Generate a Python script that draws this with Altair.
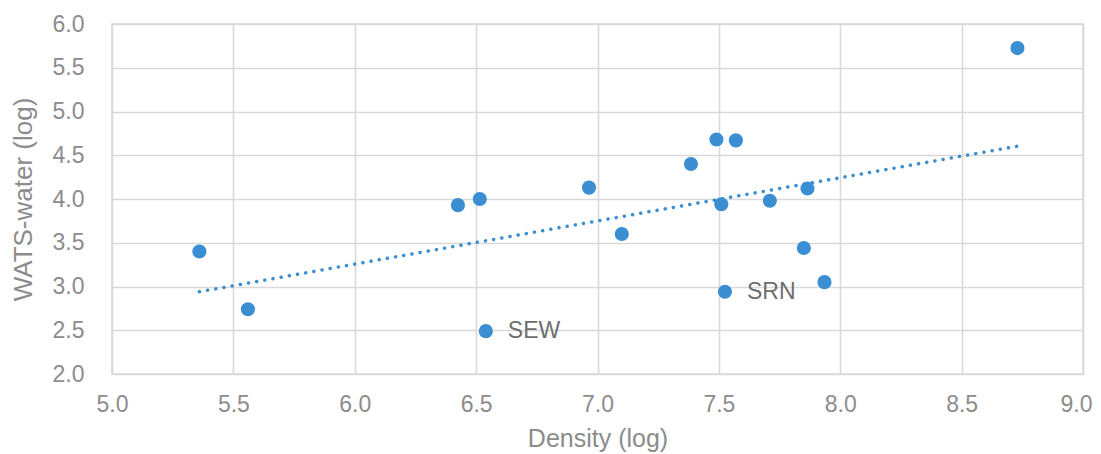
import altair as alt
import pandas as pd

density = [5.36, 5.56, 6.425, 6.515, 6.965, 7.10, 7.385, 7.49, 7.57, 7.51, 7.71, 7.865, 7.85, 7.935, 7.525, 6.54, 8.73]
wats = [3.40, 2.74, 3.93, 4.00, 4.13, 3.60, 4.40, 4.68, 4.67, 3.94, 3.98, 4.12, 3.44, 3.05, 2.94, 2.49, 5.725]
labels = ["", "", "", "", "", "", "", "", "", "", "", "", "", "", "SRN", "SEW", ""]

df = pd.DataFrame({"density": density, "wats": wats, "label": labels})

BLUE = "#3B8ED2"
GRID = "#D9D9D9"
TICK = "#8C8C8C"

x = alt.X("density:Q", scale=alt.Scale(domain=[5, 9], nice=False, zero=False),
          axis=alt.Axis(title="Density (log)", values=[5.0, 5.5, 6.0, 6.5, 7.0, 7.5, 8.0, 8.5, 9.0],
                        format=".1f", grid=True, gridColor=GRID, gridWidth=1.6,
                        domain=False, ticks=False, tickSize=0, labelPadding=19,
                        labelFlush=False, labelOverlap=False,
                        labelAlign={"condition": {"test": "datum.value >= 9", "value": "right"}, "value": "center"},
                        labelOffset={"condition": {"test": "datum.value >= 9", "value": 9}, "value": 0},
                        labelFontSize=23, labelColor=TICK, labelFont="Liberation Sans",
                        titleFontSize=25, titleColor=TICK, titleFont="Liberation Sans",
                        titleFontWeight="normal", titlePadding=10))
y = alt.Y("wats:Q", scale=alt.Scale(domain=[2, 6], nice=False, zero=False),
          axis=alt.Axis(title="WATS-water (log)", values=[2.0, 2.5, 3.0, 3.5, 4.0, 4.5, 5.0, 5.5, 6.0],
                        format=".1f", grid=True, gridColor=GRID, gridWidth=1.6,
                        domain=False, ticks=False, tickSize=0, labelPadding=28,
                        labelFlush=False, labelOverlap=False,
                        labelFontSize=23, labelColor=TICK, labelFont="Liberation Sans",
                        titleFontSize=26, titleColor=TICK, titleFont="Liberation Sans",
                        titleFontWeight="normal", titlePadding=16))

base = alt.Chart(df)

points = base.mark_circle(size=200, color=BLUE, opacity=1).encode(x=x, y=y)

trend = base.transform_regression("density", "wats").mark_line(
    color=BLUE, strokeWidth=3.5, strokeCap="round", strokeDash=[0.1, 8.2]
).encode(x="density:Q", y="wats:Q")

text = base.transform_filter(alt.datum.label != "").mark_text(
    align="left", baseline="middle", dx=22, fontSize=23, color="#6E6E6E", font="Liberation Sans"
).encode(x="density:Q", y="wats:Q", text="label:N")

chart = alt.layer(trend, points, text).properties(
    width=971, height=350,
    autosize=alt.AutoSizeParams(type="none"),
    padding={"left": 104, "top": 16, "right": 10, "bottom": 80},
).configure_view(stroke=GRID, strokeWidth=1.6)

chart.save("out.html", embed_options={"renderer": "svg", "actions": False})
